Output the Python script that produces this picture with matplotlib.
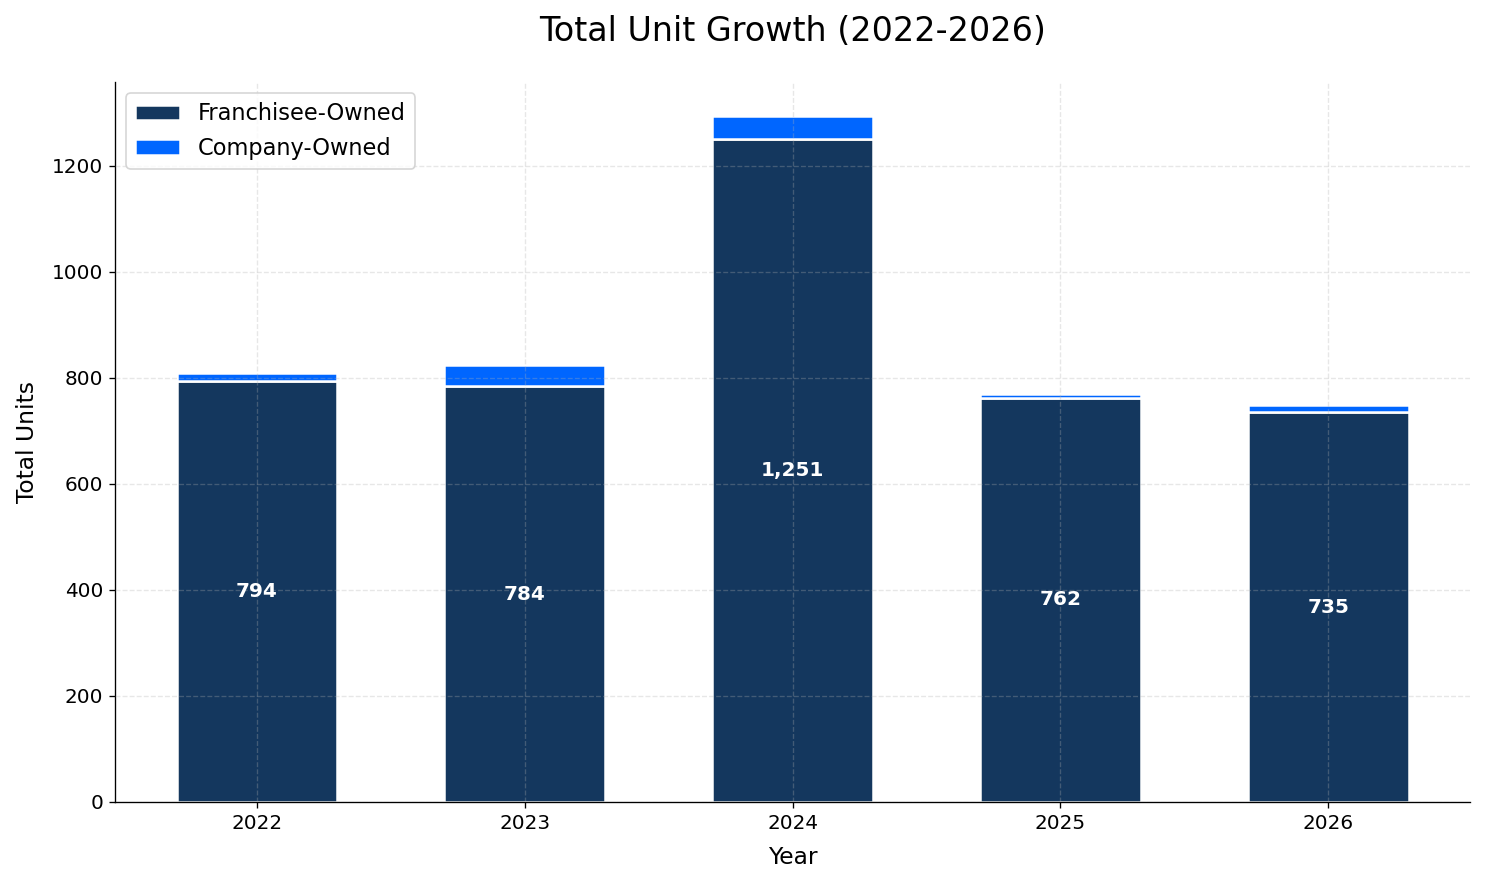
import matplotlib.pyplot as plt
import numpy as np

years = ["2022", "2023", "2024", "2025", "2026"]
franchisee = [794, 784, 1251, 762, 735]
company = [15, 40, 42, 8, 13]

fig, ax = plt.subplots(figsize=(12.375, 7.3667), dpi=120)
x = np.arange(len(years))

ax.bar(x, franchisee, width=0.6, color="#14375e", edgecolor="white", linewidth=1.5,
       label="Franchisee-Owned", zorder=2)
ax.bar(x, company, width=0.6, bottom=franchisee, color="#0066ff", edgecolor="white",
       linewidth=1.5, label="Company-Owned", zorder=2)

for xi, v in zip(x, franchisee):
    ax.text(xi, v / 2, f"{v:,}", ha="center", va="center", color="white",
            fontsize=12, fontweight="bold", zorder=3)

ax.set_xticks(x)
ax.set_xticklabels(years, fontsize=12)
ax.tick_params(axis="y", labelsize=12)
ax.set_xlabel("Year", fontsize=14, labelpad=8)
ax.set_ylabel("Total Units", fontsize=14, labelpad=8)
ax.set_title("Total Unit Growth (2022-2026)", fontsize=20, pad=25)
ax.grid(True, linestyle="--", alpha=0.3, zorder=0)
ax.set_axisbelow(False)
ax.spines["top"].set_visible(False)
ax.spines["right"].set_visible(False)
ax.legend(loc="upper left", fontsize=13.5)

plt.subplots_adjust(left=0.0774, right=0.99, bottom=0.0928, top=0.907)
plt.savefig("out.png")
